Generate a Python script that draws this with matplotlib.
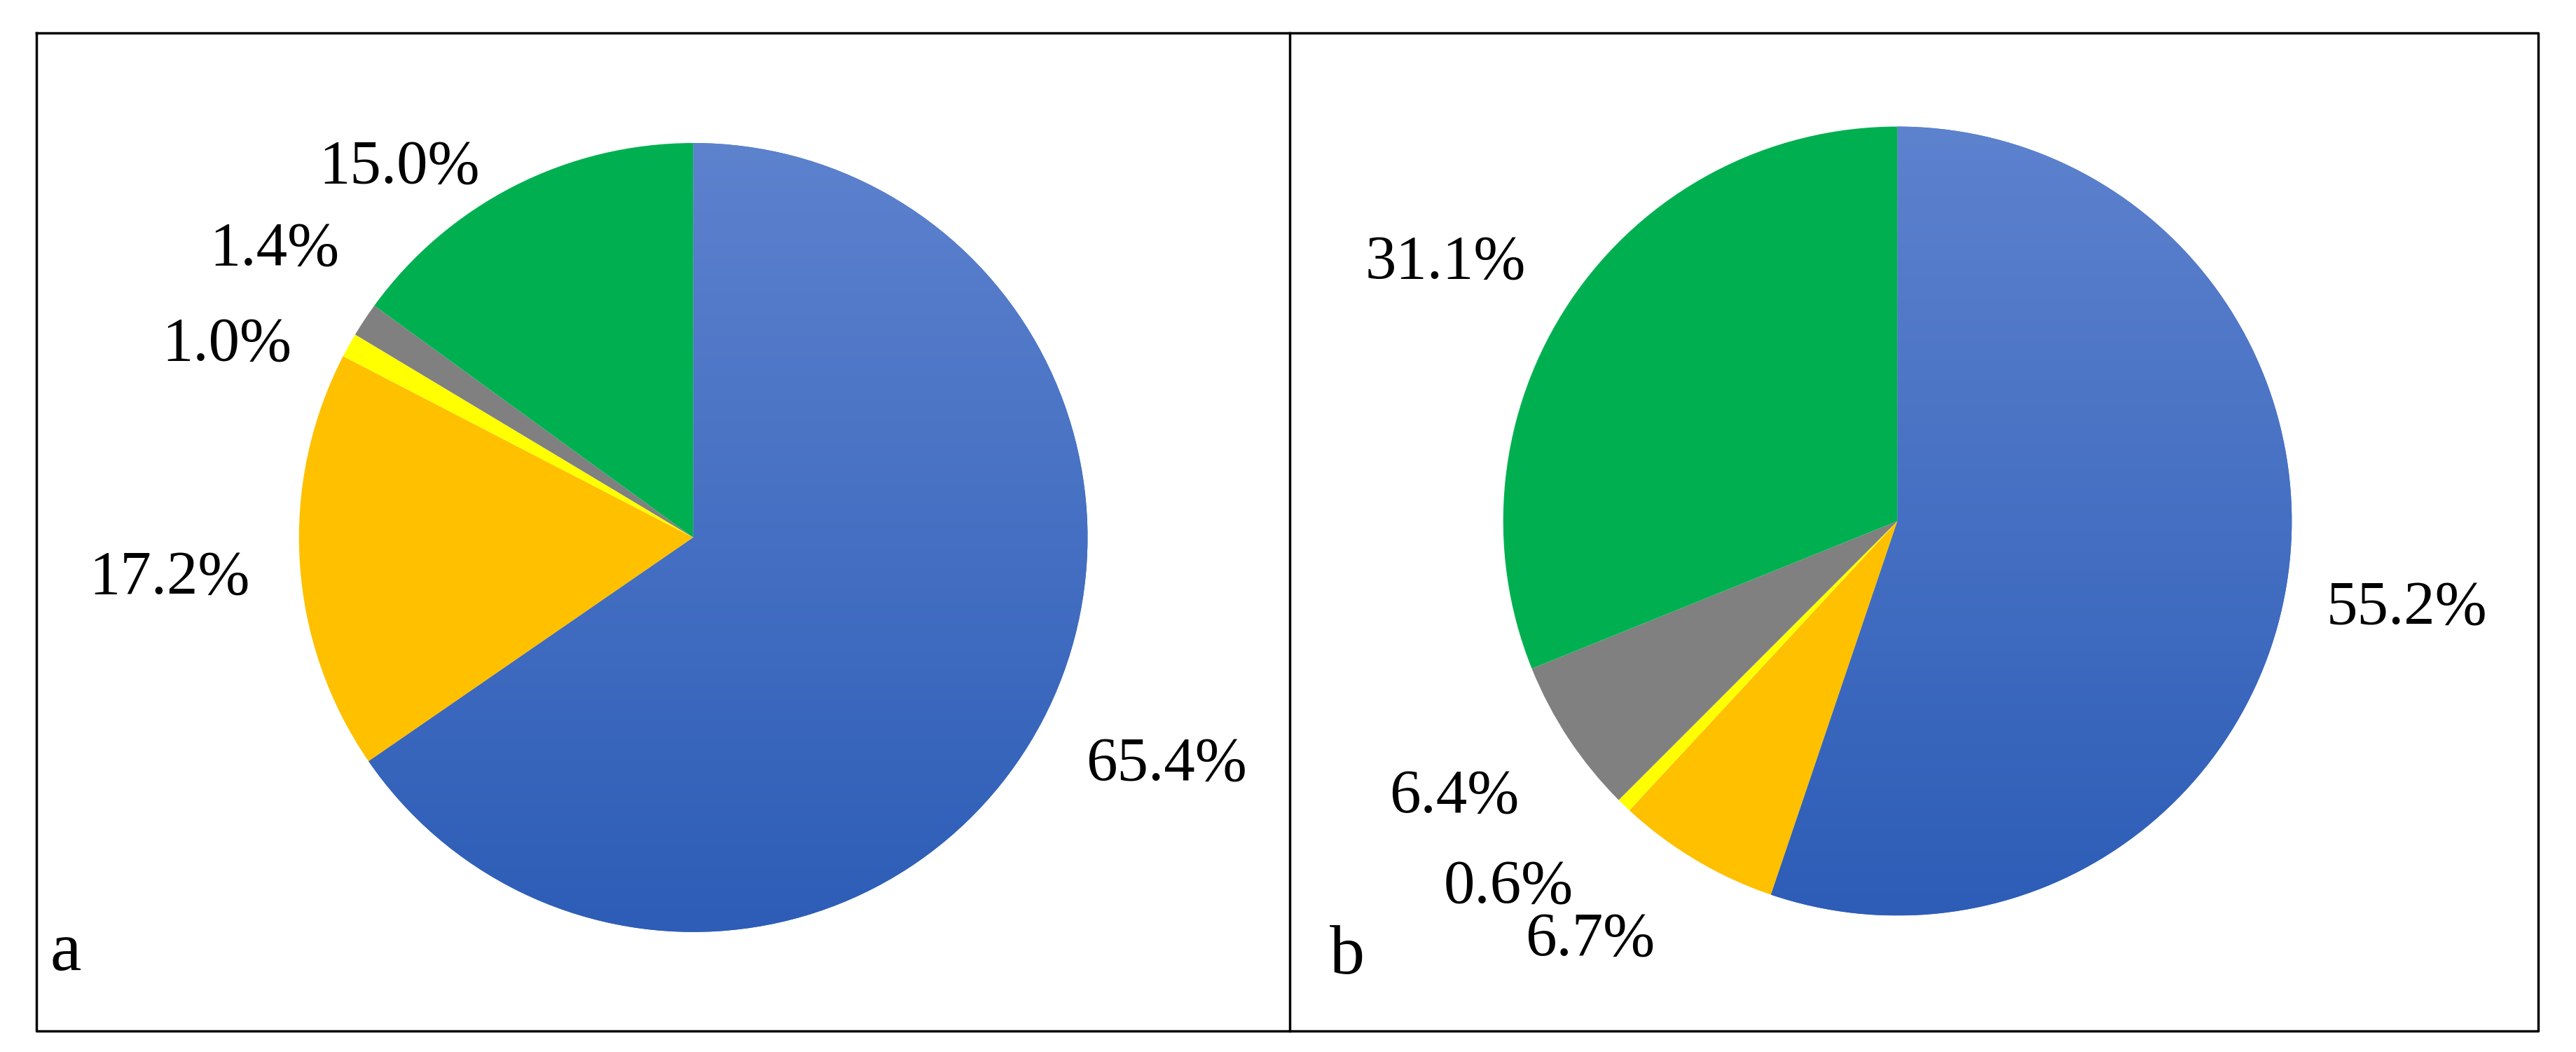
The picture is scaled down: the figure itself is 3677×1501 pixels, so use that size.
"""
Two pie charts (a, b) side by side in boxed panels.
"""
import matplotlib
matplotlib.use("Agg")
import matplotlib.pyplot as plt
import numpy as np
from matplotlib.colors import LinearSegmentedColormap

# clockwise from 12 o'clock
shares_a = [65.4, 17.2, 1.0, 1.4, 15.0]
shares_b = [55.2, 6.7, 0.6, 6.4, 31.1]
labels_a = ["65.4%", "17.2%", "1.0%", "1.4%", "15.0%"]
labels_b = ["55.2%", "6.7%", "0.6%", "6.4%", "31.1%"]
panel_tags = ["a", "b"]

COLORS = ["#4470c8", "#ffc000", "#ffff00", "#808080", "#00b050"]
BLUE_CMAP = LinearSegmentedColormap.from_list("blue", ["#2d5db7", "#5d82ce"])

W, H = 1568, 640  # working canvas units (scaled to output)
plt.rcParams["font.family"] = ["Liberation Serif", "DejaVu Serif"]

fig = plt.figure(figsize=(36.77, 15.01), dpi=100)
ax = fig.add_axes([0, 0, 1, 1])
ax.set_xlim(0, W)
ax.set_ylim(0, H)
ax.axis("off")

# panel frames
ax.plot([22, 1545, 1545, 22, 22], [H - 20, H - 20, H - 627, H - 627, H - 20],
        color="black", lw=2.5)
ax.plot([785, 785], [H - 20, H - 627], color="black", lw=2.5)


def draw_pie(shares, labels, center, radius, label_pos, tag, tag_pos):
    wedges, _ = ax.pie(shares, colors=COLORS, startangle=90, counterclock=False,
                       center=center, radius=radius, frame=True,
                       wedgeprops=dict(linewidth=0))
    # vertical gradient on the blue slice
    grad = np.linspace(0, 1, 256).reshape(-1, 1)
    im = ax.imshow(grad, cmap=BLUE_CMAP, origin="lower", aspect="auto",
                   extent=[center[0] - radius, center[0] + radius,
                           center[1] - radius, center[1] + radius], zorder=1.5)
    im.set_clip_path(wedges[0])
    for txt, (x, y) in zip(labels, label_pos):
        ax.text(x, H - y, txt, fontsize=64, ha="center", va="center")
    ax.text(tag_pos[0], H - tag_pos[1], tag, fontsize=72, ha="center", va="center")


draw_pie(shares_a, labels_a, (422, H - 327), 240,
         [(710, 465), (103, 352), (138, 210), (167, 152), (243, 102)],
         panel_tags[0], (40, 580))
draw_pie(shares_b, labels_b, (1155, H - 317), 240,
         [(1465, 370), (968, 572), (918, 540), (885, 485), (880, 160)],
         panel_tags[1], (820, 582))

ax.set_xlim(0, W)
ax.set_ylim(0, H)
ax.set_aspect("auto")
ax.axis("off")
fig.savefig("out.png", dpi=100)
